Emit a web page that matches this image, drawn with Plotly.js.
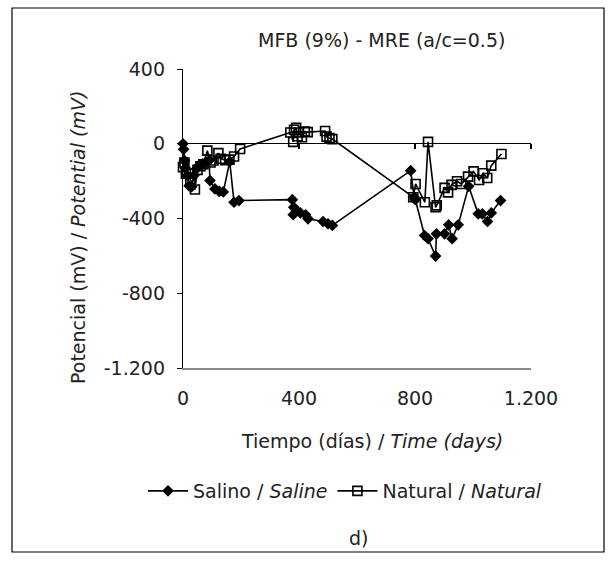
<!DOCTYPE html>
<html>
<head>
<meta charset="utf-8">
<script src="https://cdn.plot.ly/plotly-3.0.1.min.js"></script>
<style>
html,body{margin:0;padding:0;background:#fff;}
#chart{width:614px;height:568px;}
</style>
</head>
<body>
<div id="chart"></div>
<script>
// ---- data ----
const salinoX = [0,2,5,8,15,21,30,38,46,55,67,78,90,93,110,125,139,161,176,193,
  377,382,380,391,405,423,431,483,500,515,
  785,797,801,833,845,871,874,902,916,928,949,985,1018,1032,1050,1063,1095];
const salinoY = [0,-30,-90,-130,-170,-225,-230,-170,-135,-117,-108,-100,-90,-197,-242,-255,-258,-96,-313,-304,
  -299,-340,-380,-357,-370,-380,-402,-416,-428,-437,
  -144,-286,-299,-491,-508,-601,-482,-482,-434,-508,-434,-228,-375,-375,-416,-370,-304];

const naturalX = [0,5,10,25,41,50,60,70,84,95,105,122,130,145,160,176,197,
  370,380,383,390,395,400,410,420,430,490,495,505,515,
  794,802,834,845,871,875,902,914,926,945,960,983,1002,1021,1035,1049,1063,1098];
const naturalY = [-125,-100,-160,-190,-245,-140,-120,-110,-37,-100,-90,-50,-80,-88,-85,-68,-28,
  60,10,75,85,40,60,35,65,62,68,38,30,25,
  -286,-215,-313,10,-340,-330,-236,-260,-220,-201,-215,-176,-148,-194,-158,-183,-117,-55];

const seriesNames = ['Salino / <i>Saline</i>', 'Natural / <i>Natural</i>'];
const xTickVals = [0,400,800,1200];
const xTickText = ['0','400','800','1.200'];
const yTickVals = [-1200,-800,-400,0,400];
const yTickText = ['-1.200','-800','-400','0','400'];
const chartTitle = 'MFB (9%) - MRE (a/c=0.5)';
const xTitle = 'Tiempo (días) / <i>Time (days)</i>';
const yTitle = 'Potencial (mV) / <i>Potential (mV)</i>';
const panelLabel = 'd)';

// ---- layout geometry (pixels of the 614x568 figure) ----
const L = 183, R = 531, T = 69, B = 368;
const fx = p => (p - L) / (R - L);
const fy = p => (B - p) / (B - T);

const FONT = 'DejaVu Sans, sans-serif';
const FS = 19;
const TXT = '#222';

const traces = [
  {x: salinoX, y: salinoY, name: seriesNames[0], type: 'scatter', mode: 'lines+markers',
   line: {color: '#000', width: 1.6},
   marker: {symbol: 'diamond', size: 9, color: '#000'}, cliponaxis: false},
  {x: naturalX, y: naturalY, name: seriesNames[1], type: 'scatter', mode: 'lines+markers',
   line: {color: '#000', width: 1.6},
   marker: {symbol: 'square-open', size: 9, color: '#000', line: {width: 1.6}}, cliponaxis: false},
  // carrier for the axis drawn through y = 0 (no visible marks)
  {x: [null], y: [null], xaxis: 'x2', yaxis: 'y', type: 'scatter', mode: 'markers',
   showlegend: false, hoverinfo: 'skip'}
];

const layout = {
  width: 614, height: 568,
  margin: {l: L, r: 614 - R, t: T, b: 568 - B},
  paper_bgcolor: '#fff', plot_bgcolor: '#fff',
  font: {family: FONT, size: FS, color: TXT},
  showlegend: true,
  legend: {orientation: 'h', x: fx(143), y: fy(491), xanchor: 'left', yanchor: 'middle',
           font: {size: FS, color: TXT}, itemwidth: 40, tracegroupgap: 0},
  xaxis: {range: [0, 1200], tickvals: xTickVals, ticktext: xTickText,
          showline: true, linecolor: '#888', linewidth: 1.5, ticks: '',
          showgrid: false, zeroline: false, ticklabelstandoff: 13, fixedrange: true},
  xaxis2: {range: [0, 1200], overlaying: 'x', anchor: 'free', position: fy(143), side: 'bottom',
           tickvals: xTickVals, showticklabels: false, ticks: 'outside', ticklen: 5,
           tickcolor: '#000', tickwidth: 1.2,
           showline: true, linecolor: '#000', linewidth: 1.2, showgrid: false, zeroline: false},
  yaxis: {range: [-1200, 400], tickvals: yTickVals, ticktext: yTickText,
          showline: true, linecolor: '#000', linewidth: 1.2, ticks: 'outside', ticklen: 5,
          tickcolor: '#000', showgrid: false, zeroline: true, zerolinecolor: '#000', zerolinewidth: 1.2,
          ticklabelstandoff: 8},
  annotations: [
    {text: chartTitle, xref: 'paper', yref: 'paper', x: fx(381), y: fy(40),
     showarrow: false, xanchor: 'center', yanchor: 'middle', font: {size: FS, color: TXT}},
    {text: xTitle, xref: 'paper', yref: 'paper', x: fx(372), y: fy(441),
     showarrow: false, xanchor: 'center', yanchor: 'middle', font: {size: FS, color: TXT}},
    {text: yTitle, xref: 'paper', yref: 'paper', x: fx(78), y: fy(238), textangle: -90,
     showarrow: false, xanchor: 'center', yanchor: 'middle', font: {size: FS, color: TXT}},
    {text: panelLabel, xref: 'paper', yref: 'paper', x: fx(358), y: fy(538),
     showarrow: false, xanchor: 'center', yanchor: 'middle', font: {size: FS, color: TXT}}
  ],
  shapes: [
    {type: 'rect', xref: 'paper', yref: 'paper', x0: fx(12), x1: fx(604), y0: fy(552), y1: fy(8),
     line: {color: '#000', width: 1.2}, fillcolor: 'rgba(0,0,0,0)'}
  ]
};

Plotly.newPlot('chart', traces, layout, {staticPlot: true, displayModeBar: false});
</script>
</body>
</html>
